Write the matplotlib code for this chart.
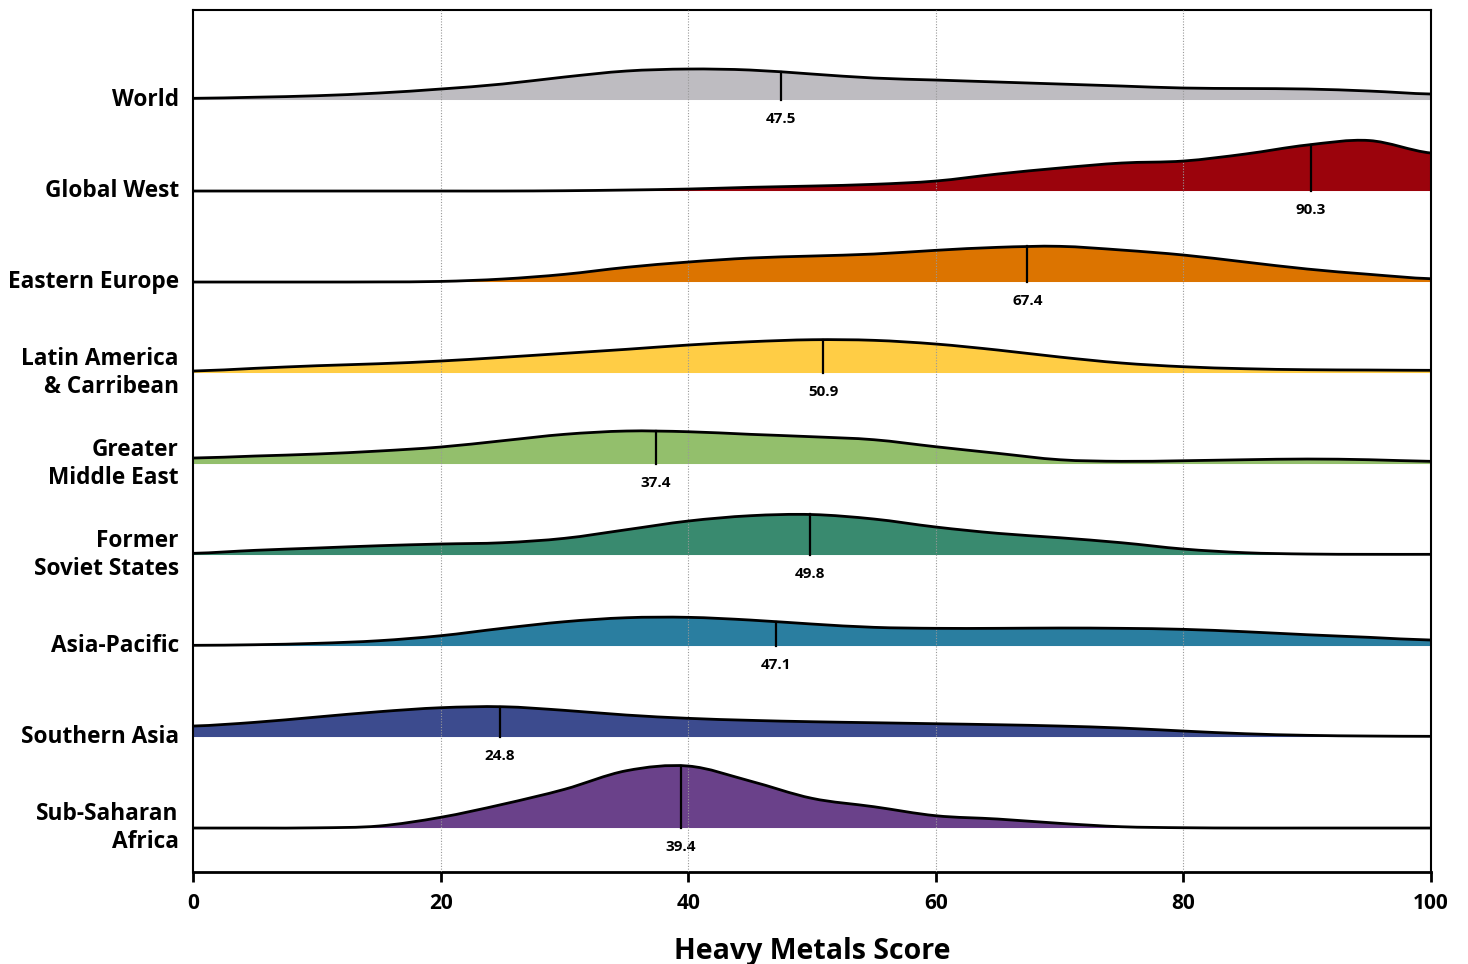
import numpy as np
import matplotlib.pyplot as plt
from matplotlib.path import Path
from matplotlib.patches import PathPatch

# ------------------------------
# Data (density heights read off the chart, sampled every 5 points)
# ------------------------------
score_grid = [0, 5, 10, 15, 20, 25, 30, 35, 40, 45, 50,
              55, 60, 65, 70, 75, 80, 85, 90, 95, 100]

regions = ["World", "Global West", "Eastern Europe", "Latin America\n& Carribean",
           "Greater\nMiddle East", "Former\nSoviet States", "Asia-Pacific",
           "Southern Asia", "Sub-Saharan\nAfrica"]

medians = [47.5, 90.3, 67.4, 50.9, 37.4, 49.8, 47.1, 24.8, 39.4]

colors = ["#bebcc1", "#9b030c", "#dc7400", "#ffcd45", "#93bf6c",
          "#398a6f", "#2a7ea0", "#3c4b8e", "#6a418a"]

world = [1.7, 2.8, 4.3, 7, 11, 16, 23, 29, 31, 30, 26,
         22, 20, 18, 16, 14, 12, 11.5, 11, 9, 6]
global_west = [0, 0, 0, 0, 0, 0, 0.3, 1, 2, 3.7, 5,
               6.7, 10, 17, 23, 28, 30, 37, 46, 50.5, 38]
eastern_europe = [0, 0, 0, 0.1, 0.6, 3, 7.7, 14.7, 20, 24, 26,
                  28, 31.7, 34.7, 35.7, 32, 27, 20, 13, 7.7, 3.3]
latin_america = [2, 4.7, 7.3, 9.3, 12, 15.7, 19.7, 23.7, 28, 31.3, 33.3,
                 32.7, 29, 23, 16, 10, 6.3, 4.3, 3.3, 3, 2.7]
middle_east = [6, 8, 10, 13, 17, 23.3, 29.7, 33, 32.3, 29.7, 27.3,
               24.3, 17.3, 10.7, 4.3, 2.7, 3.3, 4.3, 5, 4.3, 2.7]
soviet_states = [1.7, 4.7, 7, 9.3, 11, 12.3, 16.7, 25.3, 34, 39.3, 40.5,
                 36, 28, 21.7, 17.3, 12.3, 6, 2.3, 1, 0.7, 0.7]
asia_pacific = [0.7, 1.3, 2.7, 5.3, 10.3, 17.7, 24.3, 28.3, 28.7, 26, 22,
                18.7, 17.7, 17.7, 18, 17.7, 16.7, 14.3, 11.3, 8.7, 6]
southern_asia = [11, 14.7, 20, 25.3, 29.3, 30.3, 26.7, 22, 18.7, 16.7, 15.3,
                 14.3, 13.3, 12.3, 11, 9, 6, 3.3, 1.7, 1, 0.7]
sub_saharan = [0, 0, 0.2, 2, 10.7, 23.7, 38.7, 57.3, 62, 47, 29.7,
               21.3, 12.3, 9, 4.7, 1.3, 0.3, 0, 0, 0, 0]

densities = [world, global_west, eastern_europe, latin_america, middle_east,
             soviet_states, asia_pacific, southern_asia, sub_saharan]


def smooth_segments(xs, ys):
    """Catmull-Rom through the read points, as cubic bezier control points."""
    xs = np.asarray(xs, float)
    ys = np.asarray(ys, float)
    px = np.concatenate([[2 * xs[0] - xs[1]], xs, [2 * xs[-1] - xs[-2]]])
    py = np.concatenate([[ys[0]], ys, [ys[-1]]])
    segs = []
    for i in range(1, len(px) - 2):
        p0 = (px[i], py[i])
        p1 = (px[i + 1], py[i + 1])
        c1 = (px[i] + (px[i + 1] - px[i - 1]) / 6, py[i] + (py[i + 1] - py[i - 1]) / 6)
        c2 = (px[i + 1] - (px[i + 2] - px[i]) / 6, py[i + 1] - (py[i + 2] - py[i]) / 6)
        segs.append((p0, c1, c2, p1))
    return segs


def curve_height(segs, xv):
    for p0, c1, c2, p1 in segs:
        if p0[0] <= xv <= p1[0]:
            t = (xv - p0[0]) / (p1[0] - p0[0])
            return ((1 - t) ** 3 * p0[1] + 3 * (1 - t) ** 2 * t * c1[1]
                    + 3 * (1 - t) * t ** 2 * c2[1] + t ** 3 * p1[1])
    return 0


# ------------------------------
# Plot
# ------------------------------
plt.rcParams['font.family'] = ['Open Sans', 'DejaVu Sans']
plt.rcParams['font.weight'] = 'bold'

fig = plt.figure(figsize=(14.68, 9.64), dpi=100)
ax = fig.add_axes([0.1315, 0.0954, 0.8433, 0.8942])

row_gap = 91

for i, (name, dens, med, col) in enumerate(zip(regions, densities, medians, colors)):
    base = -row_gap * i
    segs = smooth_segments(score_grid, dens)

    verts = [(segs[0][0][0], base + segs[0][0][1])]
    codes = [Path.MOVETO]
    for p0, c1, c2, p1 in segs:
        verts += [(c1[0], base + c1[1]), (c2[0], base + c2[1]), (p1[0], base + p1[1])]
        codes += [Path.CURVE4] * 3
    outline = Path(verts, codes)
    fill = Path(verts + [(score_grid[-1], base), (score_grid[0], base), verts[0]],
                codes + [Path.LINETO, Path.LINETO, Path.CLOSEPOLY])

    ax.add_patch(PathPatch(fill, facecolor=col, edgecolor="none", zorder=2))
    ax.add_patch(PathPatch(outline, facecolor="none", edgecolor="black", lw=2, zorder=4))

    # median marker
    h = curve_height(segs, med)
    ax.plot([med, med], [base, base + h], color="black", lw=1.6, zorder=4)
    ax.text(med, base - 19, f"{med}", ha="center", va="center",
            fontsize=11, fontweight="bold")
    # row label
    ax.text(-1.15, base, name, ha="right", va="center", fontsize=16.3,
            fontweight="bold", linespacing=1.2)

for gx in [20, 40, 60, 80]:
    ax.axvline(gx, color="#999999", lw=0.8, ls=(0, (1, 1.5)), zorder=3)

ax.set_xlim(0, 100)
ax.set_ylim(-row_gap * 8 - 44, 90)
ax.set_yticks([])
ax.set_xticks([0, 20, 40, 60, 80, 100])
ax.tick_params(axis="x", length=7, width=2, labelsize=15, pad=8)
for lab in ax.get_xticklabels():
    lab.set_fontweight("bold")
for s in ax.spines.values():
    s.set_linewidth(1.5)
ax.spines["bottom"].set_linewidth(2)

ax.set_xlabel("Heavy Metals Score", fontsize=20.5, fontweight="bold", labelpad=17)

fig.savefig("out.png", dpi=100)
